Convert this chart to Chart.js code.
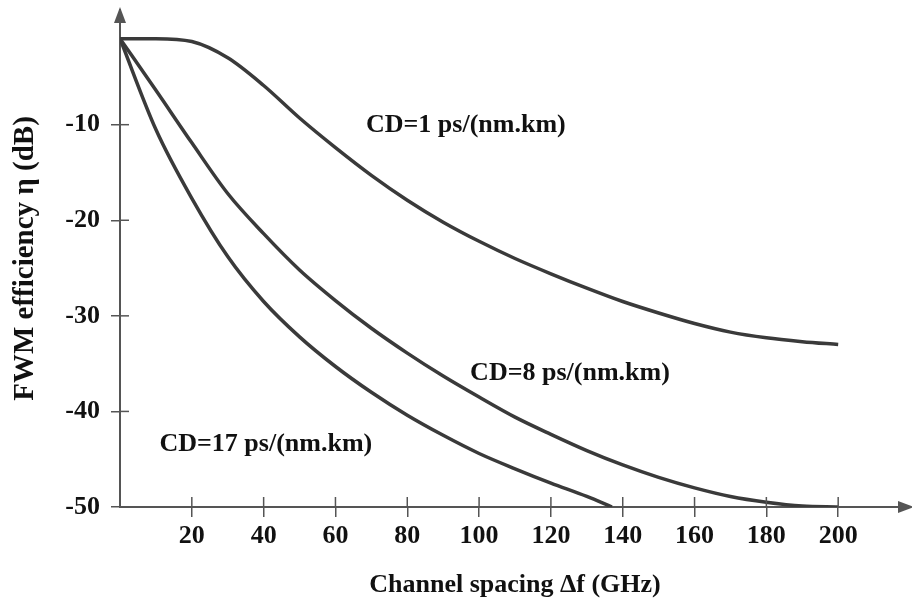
<!DOCTYPE html>
<html>
<head>
<meta charset="utf-8">
<script src="https://cdn.jsdelivr.net/npm/chart.js@4/dist/chart.umd.min.js"></script>
<style>
  body { margin: 0; background: #fff; }
  canvas { display: block; }
</style>
</head>
<body>
<canvas id="fwm-chart" width="912" height="607"></canvas>
<script>
// channel spacing (GHz) and FWM efficiency (dB)
var CD1_X = [0, 10, 20, 30, 40, 50, 60, 70, 80, 90, 100, 110, 120, 130, 140, 150, 160, 170, 180, 190, 200];
var CD1_Y = [-1, -1.0, -1.3, -3.0, -5.9, -9.3, -12.4, -15.3, -17.9, -20.2, -22.2, -24.0, -25.6, -27.1, -28.5, -29.7, -30.8, -31.7, -32.3, -32.7, -33.0];

var CD8_X = [0, 10, 20, 30, 40, 50, 60, 70, 80, 90, 100, 110, 120, 130, 140, 150, 160, 170, 180, 190, 200];
var CD8_Y = [-1, -6.4, -11.9, -17.2, -21.4, -25.2, -28.4, -31.3, -33.9, -36.3, -38.5, -40.6, -42.4, -44.1, -45.6, -46.9, -48.0, -48.9, -49.5, -49.9, -50.0];

var CD17_X = [0, 10, 20, 30, 40, 50, 60, 70, 80, 90, 100, 110, 120, 130, 137];
var CD17_Y = [-1, -10.5, -17.7, -23.8, -28.5, -32.2, -35.3, -38.0, -40.4, -42.5, -44.4, -46.0, -47.5, -48.9, -50];

var X_TICKS = [20, 40, 60, 80, 100, 120, 140, 160, 180, 200];
var Y_TICKS = [-50, -40, -30, -20, -10];

var CURVE_LABELS = ['CD=1 ps/(nm.km)', 'CD=8 ps/(nm.km)', 'CD=17 ps/(nm.km)'];

var FONT = '"Liberation Serif", "Times New Roman", serif';
var INK = '#3a3a3a';
var AXIS = '#555555';

function toPoints(xs, ys) {
    var pts = [];
    for (var i = 0; i < xs.length; i++) {
        pts.push({x: xs[i], y: ys[i]});
    }
    return pts;
}

function curve(label, xs, ys) {
    return {
        label: label,
        data: toPoints(xs, ys),
        borderColor: INK,
        borderWidth: 3.5,
        pointRadius: 0,
        fill: false,
        cubicInterpolationMode: 'monotone'
    };
}

/**
 * Tick marks that cross the axes, the two arrow heads and the curve names.
 */
var axisDecor = {
    id: 'axisDecor',
    afterDraw: function (chart) {
        var ctx = chart.ctx;
        var area = chart.chartArea;
        var xs = chart.scales.x;
        var ys = chart.scales.y;
        ctx.save();
        ctx.strokeStyle = AXIS;
        ctx.lineWidth = 1.5;
        // inner halves of the tick marks
        X_TICKS.forEach(function (v) {
            var px = xs.getPixelForValue(v);
            ctx.beginPath();
            ctx.moveTo(px, area.bottom);
            ctx.lineTo(px, area.bottom - 10);
            ctx.stroke();
        });
        Y_TICKS.forEach(function (v) {
            var py = ys.getPixelForValue(v);
            ctx.beginPath();
            ctx.moveTo(area.left, py);
            ctx.lineTo(area.left + 9, py);
            ctx.stroke();
        });
        // arrow heads
        ctx.fillStyle = AXIS;
        ctx.beginPath();
        ctx.moveTo(area.left, area.top - 3);
        ctx.lineTo(area.left - 6, area.top + 13);
        ctx.lineTo(area.left + 6, area.top + 13);
        ctx.closePath();
        ctx.fill();
        ctx.beginPath();
        ctx.moveTo(area.right + 4, area.bottom);
        ctx.lineTo(area.right - 12, area.bottom - 6);
        ctx.lineTo(area.right - 12, area.bottom + 6);
        ctx.closePath();
        ctx.fill();

        // curve names, anchored in data units
        var spots = [[68.5, -10.1], [97.5, -36.0], [11, -43.4]];
        ctx.fillStyle = '#111';
        ctx.font = 'bold 26px ' + FONT;
        ctx.textBaseline = 'middle';
        ctx.textAlign = 'left';
        for (var i = 0; i < CURVE_LABELS.length; i++) {
            ctx.fillText(CURVE_LABELS[i], xs.getPixelForValue(spots[i][0]), ys.getPixelForValue(spots[i][1]));
        }
        ctx.restore();
    }
};

function createChart() {
    return new Chart(document.getElementById('fwm-chart').getContext('2d'), {
        type: 'line',
        data: {
            datasets: [
                curve(CURVE_LABELS[0], CD1_X, CD1_Y),
                curve(CURVE_LABELS[1], CD8_X, CD8_Y),
                curve(CURVE_LABELS[2], CD17_X, CD17_Y)
            ]
        },
        options: {
            responsive: false,
            animation: false,
            layout: {
                padding: {top: 10, right: 2, left: 0, bottom: 0}
            },
            plugins: {
                legend: {display: false},
                tooltip: {enabled: false}
            },
            scales: {
                x: {
                    type: 'linear',
                    min: 0,
                    max: 220,
                    afterBuildTicks: function (scale) {
                        scale.ticks = X_TICKS.map(function (v) { return {value: v}; });
                    },
                    afterFit: function (scale) {
                        scale.height = 100;
                    },
                    grid: {
                        drawOnChartArea: false,
                        color: AXIS,
                        lineWidth: 1.5,
                        tickLength: 10
                    },
                    border: {color: AXIS, width: 2},
                    ticks: {
                        color: '#111',
                        padding: 4,
                        maxRotation: 0,
                        font: {family: FONT, size: 26, weight: 'bold'}
                    },
                    title: {
                        display: true,
                        text: 'Channel spacing \u0394f (GHz)',
                        color: '#111',
                        padding: {top: 0, bottom: 6},
                        font: {family: FONT, size: 26, weight: 'bold'}
                    }
                },
                y: {
                    min: -50,
                    max: 2,
                    afterBuildTicks: function (scale) {
                        scale.ticks = Y_TICKS.map(function (v) { return {value: v}; });
                    },
                    afterFit: function (scale) {
                        scale.width = 120;
                        scale.paddingTop = 0;
                    },
                    grid: {
                        drawOnChartArea: false,
                        color: AXIS,
                        lineWidth: 1.5,
                        tickLength: 9
                    },
                    border: {color: AXIS, width: 2},
                    ticks: {
                        color: '#111',
                        padding: 11,
                        font: {family: FONT, size: 26, weight: 'bold'}
                    },
                    title: {
                        display: true,
                        text: 'FWM efficiency \u03b7 (dB)',
                        color: '#111',
                        padding: {top: 8, bottom: 0},
                        font: {family: FONT, size: 29, weight: 'bold'}
                    }
                }
            }
        },
        plugins: [axisDecor]
    });
}

createChart();
</script>
</body>
</html>
